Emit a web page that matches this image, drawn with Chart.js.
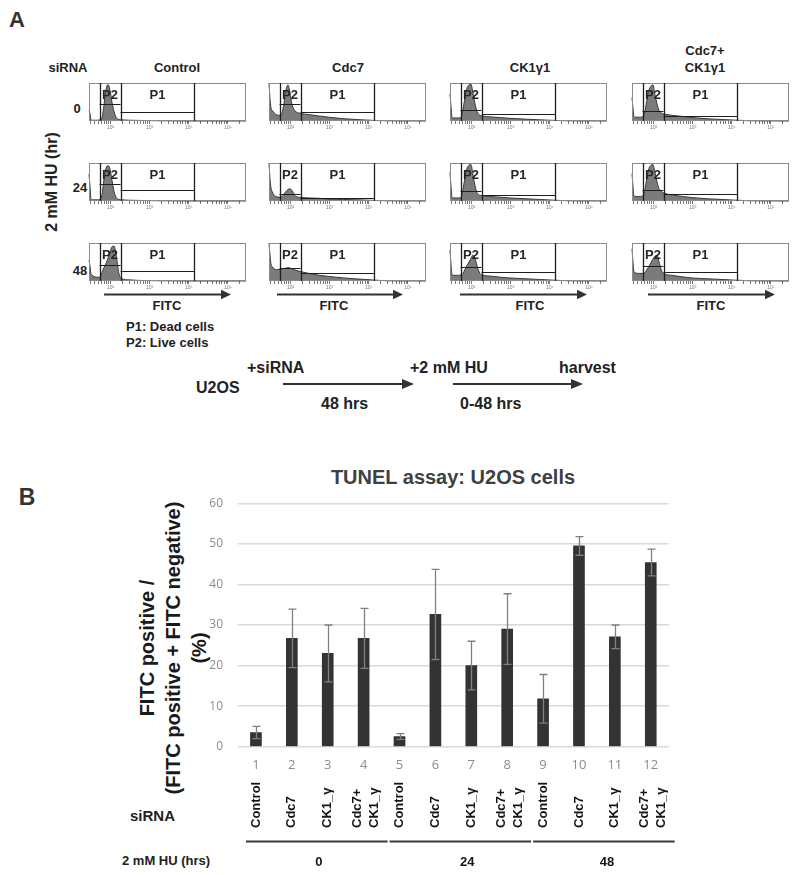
<!DOCTYPE html>
<html><head><meta charset="utf-8">
<script src="https://cdn.jsdelivr.net/npm/chart.js@4.4.0/dist/chart.umd.min.js"></script>
<style>
html,body{margin:0;padding:0;background:#fff;}
#page{position:relative;width:799px;height:875px;overflow:hidden;font-family:"Liberation Sans",Arial,sans-serif;color:#222;}
.t{position:absolute;white-space:nowrap;font-weight:bold;line-height:1;}
.c{transform:translate(-50%,-50%);}
.l{transform:translate(0,-50%);}
canvas{position:absolute;}
svg{position:absolute;left:0;top:0;}
</style></head>
<body><div id="page">
<svg width="799" height="875" id="arrows"></svg>
<div class="t c" style="left:17px;top:20px;font-size:22px;color:#333">A</div>
<div class="t c" style="left:52px;top:182px;font-size:16px;transform:translate(-50%,-50%) rotate(-90deg)">2 mM HU (hr)</div>
<div class="t l" style="left:126px;top:326px;font-size:13px">P1: Dead cells</div>
<div class="t l" style="left:126px;top:342px;font-size:13px">P2: Live cells</div>
<div class="t l" style="left:196px;top:388px;font-size:16px">U2OS</div>
<div class="t l" style="left:247px;top:368px;font-size:16px">+siRNA</div>
<div class="t l" style="left:321px;top:404px;font-size:16px">48 hrs</div>
<div class="t l" style="left:410px;top:368px;font-size:16px">+2 mM HU</div>
<div class="t l" style="left:460px;top:404px;font-size:16px">0-48 hrs</div>
<div class="t l" style="left:559px;top:368px;font-size:16px">harvest</div>
<div class="t c" style="left:27px;top:497px;font-size:23px;color:#333">B</div>
<div class="t c" style="left:453px;top:477px;font-size:20px;color:#404040">TUNEL assay: U2OS cells</div>
<div class="t c" style="left:173px;top:648px;font-size:20px;line-height:26px;text-align:center;color:#1a1a1a;transform:translate(-50%,-50%) rotate(-90deg)">FITC positive /<br>(FITC positive + FITC negative)<br>(%)</div>
<div class="t l" style="left:130px;top:815px;font-size:15px">siRNA</div>
<div class="t l" style="left:122px;top:860px;font-size:13px">2 mM HU (hrs)</div>
<canvas id="bar" width="799" height="435" style="left:0;top:440px"></canvas>
</div>
<script>
// ---------------- Panel A data ----------------
const fitcLog = [1.45,1.475,1.50,1.53,1.58,1.65,1.73,1.78,1.83,1.88,1.935,1.985,2.035,2.09,2.14,2.215,2.29,2.47,2.73,2.98,3.36,3.75,4.13,4.5,5.46];
const histControl0  = [27,20,3,2,2,2,3,8,40,80,96,82,50,25,10,4,3,2,1.5,1,0.5,0.3,0,0,0];
const histCdc7_0    = [100,60,35,28,22,16,15,20,45,80,95,75,45,30,24,21,19,17,13,10,6,3.5,1.5,0.5,0];
const histCK1_0     = [71,40,10,8,8,8,10,30,60,85,95,97,75,45,25,15,13,11,9,7,5,3,1.5,0.5,0];
const histBoth0     = [62,35,12,10,10,10,12,25,55,80,92,95,70,45,28,20,18,15,12,9,6,4,2,0.5,0];
const histControl24 = [71,40,4,3,3,3,4,15,55,85,93,85,55,25,10,4,3,2,1.5,1,0.5,0.3,0,0,0];
const histCdc7_24   = [100,60,35,25,15,11,10,12,18,25,30,32,28,18,12,10,9,8,7,5,4,3,1.5,0.5,0];
const histCK1_24    = [76,40,10,8,8,8,10,30,60,85,94,96,70,40,22,15,14,12,10,8,6,4,2,0.5,0];
const histBoth24    = [72,40,14,12,12,12,14,30,60,85,94,96,75,50,32,24,20,16,12,9,6,4,2,0.5,0];
const histControl48 = [55,40,20,15,12,10,10,22,35,45,60,75,90,92,70,20,6,3,1.5,1,0.5,0.3,0,0,0];
const histCdc7_48   = [100,70,45,38,32,30,30,32,33,34,35,34,32,30,28,26,24,20,15,12,8,5,2.5,0.5,0];
const histCK1_48    = [81,45,18,15,15,15,16,20,30,40,50,60,68,60,40,20,15,13,10,8,6,4,2,0.5,0];
const histBoth48    = [85,50,25,22,20,20,20,22,30,38,48,58,65,68,50,25,18,15,11,8,6,4,2,0.5,0];
const histSeries = [
  [histControl0, histCdc7_0, histCK1_0, histBoth0],
  [histControl24, histCdc7_24, histCK1_24, histBoth24],
  [histControl48, histCdc7_48, histCK1_48, histBoth48]
];
const colHeaders = ['Control','Cdc7','CK1γ1','Cdc7+\nCK1γ1'];
const rowLabels = ['0','24','48'];
const gateP2 = [1.72, 2.255];
const gateP1 = [2.255, 4.14];
const gateP2Level = [[44,44,29,27],[44,18,26,30],[43,33,37,39]];
const gateP1Level = [[25,24,19.5,13],[29,9,17,18],[26,20,23,23]];
const decades = [1,2,3,4,5];
const decadeLabels = {2:'10²',3:'10³',4:'10⁴',5:'10⁵'};

// ---------------- Panel B data ----------------
const categories = ['1','2','3','4','5','6','7','8','9','10','11','12'];
const tunelMean = [3.5,26.7,23.0,26.7,2.5,32.6,20.0,29.0,11.8,49.5,27.1,45.4];
const tunelErr  = [1.5,7.2,7.0,7.4,0.7,11.1,6.0,8.7,6.0,2.3,2.9,3.3];
const siRNALabels = [['Control'],['Cdc7'],['CK1_γ'],['Cdc7+','CK1_γ'],['Control'],['Cdc7'],['CK1_γ'],['Cdc7+','CK1_γ'],['Control'],['Cdc7'],['CK1_γ'],['Cdc7+','CK1_γ']];
const huGroups = ['0','24','48'];
const huGroupFirst = [0,4,8];
const huGroupLast = [3,7,11];

// ---------------- layout ----------------
const colLeft = [89,269,450,632], rowTop = [83,163,243], boxW = 157, boxH = 38;
const headerX = [177,348,530,705], headerY = 67;
const rowLabelX = [77,80,80], rowLabelY = [108,187,270];
const fitcArrows = [[104,231],[277,403],[460,587],[648,775]], fitcY = 294.5, fitcLabelX=[167,334,530,711];
const schemeArrows = [[283,414],[453,583]], schemeY = 384;
const groupLabelNudge = [2,7,3];

Chart.defaults.font.family = '"Liberation Sans", Arial, sans-serif';
const page = document.getElementById('page');
function addText(txt, x, y, size, extra){
  const d = document.createElement('div');
  d.className = 't c'; d.style.left = x+'px'; d.style.top = y+'px'; d.style.fontSize = size+'px';
  if (extra) Object.assign(d.style, extra);
  d.textContent = txt; page.appendChild(d); return d;
}
addText('siRNA', 68, headerY, 13);
colHeaders.forEach((h,i)=>{
  const lines = h.split('\n');
  addText(lines.join('\n'), headerX[i], lines.length>1 ? headerY-8.5 : headerY, 13, {whiteSpace:'pre', textAlign:'center', lineHeight:'17px'});
});
rowLabels.forEach((r,i)=> addText(r, rowLabelX[i], rowLabelY[i], 13));
fitcLabelX.forEach(x=> addText('FITC', x, 305, 13));

// arrows (decoration)
const svg = document.getElementById('arrows');
function arrow(x1,x2,y,hl,hw){
  svg.insertAdjacentHTML('beforeend',
    `<line x1="${x1}" y1="${y}" x2="${x2-hl+1}" y2="${y}" stroke="#333" stroke-width="2"/>`+
    `<polygon points="${x2},${y} ${x2-hl},${y-hw} ${x2-hl},${y+hw}" fill="#333"/>`);
}
fitcArrows.forEach(a=>arrow(a[0],a[1],fitcY,10,4.8));
schemeArrows.forEach(a=>arrow(a[0],a[1],schemeY,12,5));

// histogram ticks
const histTicks = [];
decades.forEach(n=>{ for(let k=1;k<=9;k++){ const v = k===1 ? n : n+Math.log10(k); if(v>=1.45 && v<=5.46) histTicks.push(v);} });

const gatePlugin = {
  id:'gates',
  afterDatasetsDraw(chart){
    const {ctx, chartArea:a, scales:{x,y}} = chart;
    const r = chart.options.plugins.gates.row, c = chart.options.plugins.gates.col;
    ctx.save();
    ctx.strokeStyle = '#8a8a8a'; ctx.lineWidth = 1;
    ctx.strokeRect(Math.round(a.left)+0.5, Math.round(a.top)+0.5, Math.round(a.width)-1, Math.round(a.height)-1);
    ctx.strokeStyle = '#1e1e1e'; ctx.lineWidth = 1.3;
    [gateP2[0], gateP2[1], gateP1[1]].forEach(v=>{
      const px = Math.round(x.getPixelForValue(v))+0.5;
      ctx.beginPath(); ctx.moveTo(px, a.top); ctx.lineTo(px, a.bottom); ctx.stroke();
    });
    ctx.lineWidth = 1;
    [[gateP2, gateP2Level[r][c]],[gateP1, gateP1Level[r][c]]].forEach(([g,lv])=>{
      const py = Math.round(y.getPixelForValue(lv))+0.5;
      ctx.beginPath(); ctx.moveTo(x.getPixelForValue(g[0]), py); ctx.lineTo(x.getPixelForValue(g[1]), py); ctx.stroke();
    });
    ctx.fillStyle = '#262626'; ctx.font = 'bold 13px "Liberation Sans", Arial, sans-serif';
    ctx.textAlign = 'center'; ctx.textBaseline = 'middle';
    ctx.fillText('P2', x.getPixelForValue((gateP2[0]+gateP2[1])/2), a.top+12);
    ctx.fillText('P1', x.getPixelForValue((gateP1[0]+gateP1[1])/2), a.top+12);
    ctx.restore();
  }
};

histSeries.forEach((row,r)=>row.forEach((ys,c)=>{
  const cv = document.createElement('canvas');
  cv.width = boxW+4; cv.height = boxH+2+14;
  cv.style.left = (colLeft[c]-2)+'px'; cv.style.top = (rowTop[r]-2)+'px';
  page.appendChild(cv);
  new Chart(cv, {
    type:'line',
    data:{datasets:[{data: fitcLog.map((v,i)=>({x:v, y:ys[i]})), fill:'origin', backgroundColor:'#7b7b7b', borderColor:'#3a3a3a', borderWidth:1, pointRadius:0, cubicInterpolationMode:'monotone', clip:false}]},
    options:{
      animation:false, responsive:false, devicePixelRatio:1, events:[],
      layout:{padding:{left:2,right:2,top:2,bottom:0}},
      plugins:{legend:{display:false}, tooltip:{enabled:false}, gates:{row:r, col:c}},
      scales:{
        x:{type:'linear', min:1.45, max:5.46,
           grid:{drawOnChartArea:false, drawTicks:true, tickLength:3, color:'#555', lineWidth:0.8},
           border:{display:false},
           afterBuildTicks(s){ s.ticks = histTicks.map(v=>({value:v})); },
           ticks:{autoSkip:false, maxRotation:0, padding:1, font:{size:5}, color:'#777',
                  callback(v){ return decadeLabels[v] || ''; }},
           afterFit(s){ s.height = 14; }},
        y:{display:false, min:0, max:100}
      }
    },
    plugins:[gatePlugin]
  });
}));

// ---------------- Panel B chart ----------------
const errorPlugin = {
  id:'errs',
  afterDatasetsDraw(chart){
    const {ctx, scales:{y}} = chart; const meta = chart.getDatasetMeta(0);
    ctx.save(); ctx.strokeStyle = '#808080'; ctx.lineWidth = 1.3;
    meta.data.forEach((bar,i)=>{
      const x = Math.round(bar.x)+0.5;
      const y1 = y.getPixelForValue(tunelMean[i]+tunelErr[i]);
      const y2 = y.getPixelForValue(tunelMean[i]-tunelErr[i]);
      ctx.beginPath();
      ctx.moveTo(x, y1); ctx.lineTo(x, y2);
      ctx.moveTo(x-4, y1); ctx.lineTo(x+4, y1);
      ctx.moveTo(x-4, y2); ctx.lineTo(x+4, y2);
      ctx.stroke();
    });
    ctx.restore();
  }
};
const labelBaseY = 828-440, groupLineY = 841.5-440, groupLabelY = 862-440;
const sirnaPlugin = {
  id:'sirna',
  afterDraw(chart){
    const {ctx, scales:{x}} = chart;
    const step = x.getPixelForValue(1) - x.getPixelForValue(0);
    ctx.save();
    ctx.fillStyle = '#151515'; ctx.font = 'bold 13px "Liberation Sans", Arial, sans-serif';
    siRNALabels.forEach((lines,i)=>{
      const cx = x.getPixelForValue(i);
      lines.forEach((t,j)=>{
        const dx = lines.length===1 ? 0 : (j===0 ? -6 : 11);
        ctx.save(); ctx.translate(cx+dx, labelBaseY); ctx.rotate(-Math.PI/2);
        ctx.textAlign='left'; ctx.textBaseline='middle'; ctx.fillText(t,0,0); ctx.restore();
      });
    });
    ctx.strokeStyle = '#3a3a3a'; ctx.lineWidth = 2;
    huGroups.forEach((g,k)=>{
      const x1 = x.getPixelForValue(huGroupFirst[k]) - step/2 + 8;
      const x2 = x.getPixelForValue(huGroupLast[k]) + step/2 + 6;
      ctx.beginPath(); ctx.moveTo(x1, groupLineY); ctx.lineTo(x2, groupLineY); ctx.stroke();
      ctx.textAlign='center'; ctx.textBaseline='middle';
      ctx.fillText(g, (x1+x2)/2 + groupLabelNudge[k], groupLabelY);
    });
    ctx.restore();
  }
};
new Chart(document.getElementById('bar'), {
  type:'bar',
  data:{labels:categories, datasets:[{data:tunelMean, backgroundColor:'#333333', barThickness:11}]},
  options:{
    animation:false, responsive:false, devicePixelRatio:1, events:[],
    layout:{padding:{left:0, right:130.3, top:63.3, bottom:0}},
    plugins:{legend:{display:false}, tooltip:{enabled:false}, title:{display:false}},
    scales:{
      x:{offset:true, grid:{display:false, drawTicks:false}, border:{display:false},
         ticks:{color:'#8c8c8c', font:{family:'"Open Sans", sans-serif', size:13}, padding:11},
         afterFit(s){ s.height = 128.3; }},
      y:{min:0, max:60, grid:{color:'#d9d9d9', lineWidth:1.5, drawTicks:false}, border:{display:false},
         ticks:{stepSize:10, color:'#8c8c8c', font:{family:'"Open Sans", sans-serif', size:12}, padding:15},
         afterFit(s){ s.width = 238; }}
    }
  },
  plugins:[errorPlugin, sirnaPlugin]
});
</script>
</body></html>
